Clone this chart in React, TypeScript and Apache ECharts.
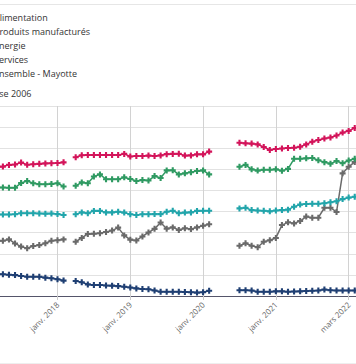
import React, { useEffect, useRef } from "react";
import * as echarts from "echarts";

const categories = [
  "janv. 2017", "févr. 2017", "mars 2017", "avr. 2017", "mai 2017", "juin 2017", "juil. 2017", "août 2017", "sept. 2017", "oct. 2017", "nov. 2017", "déc. 2017",
  "janv. 2018", "févr. 2018", "mars 2018", "avr. 2018", "mai 2018", "juin 2018", "juil. 2018", "août 2018", "sept. 2018", "oct. 2018", "nov. 2018", "déc. 2018",
  "janv. 2019", "févr. 2019", "mars 2019", "avr. 2019", "mai 2019", "juin 2019", "juil. 2019", "août 2019", "sept. 2019", "oct. 2019", "nov. 2019", "déc. 2019",
  "janv. 2020", "févr. 2020", "mars 2020", "avr. 2020", "mai 2020", "juin 2020", "juil. 2020", "août 2020", "sept. 2020", "oct. 2020", "nov. 2020", "déc. 2020",
  "janv. 2021", "avr. 2021", "mai 2021", "juin 2021", "juil. 2021", "août 2021", "sept. 2021", "oct. 2021", "nov. 2021", "déc. 2021",
  "janv. 2022", "févr. 2022", "mars 2022", "avr. 2022", "mai 2022",
];

const alimentation = [
  null, null, 141.2, 141.3, 142.1, 142.3, 143.2, 142.2, 142.4, 142.6, 142.8, 142.9, 143.0, 143.3,
  null,
  145.7, 146.7, 146.8, 146.8, 146.8, 146.8, 146.8, 146.8, 147.3, 146.1, 146.3, 146.3, 146.5, 146.3, 146.6, 147.2, 147.3, 147.4, 146.5, 146.6, 147.1, 147.1, 148.4,
  null, null, null, null,
  152.6, 152.3, 152.2, 151.8, 150.6, 149.2, 149.6, 149.9, 150.1, 150.2, 150.7, 151.8, 153.1, 153.9, 154.6, 155.1, 156.0, 157.4, 158.2, 159.6,
  null,
];

const produitsManufactures = [
  null, null, 90.4, 90.3, 90.1, 89.9, 89.5, 89.1, 89.1, 89.1, 88.7, 88.4, 87.9, 87.3,
  null,
  87.1, 86.5, 85.5, 85.2, 85.2, 85.0, 84.9, 84.7, 84.4, 84.0, 83.6, 83.3, 83.2, 82.6, 82.0, 82.0, 82.0, 82.0, 81.9, 81.8, 81.6, 81.8, 82.5,
  null, null, null, null,
  82.7, 82.7, 82.6, 82.0, 82.0, 82.0, 82.2, 82.2, 82.0, 82.1, 82.2, 82.4, 82.5, 82.6, 83.1, 82.7, 82.6, 82.6, 82.6, 82.6,
  null,
];

const energie = [
  null, null, 106.0, 106.2, 106.8, 104.9, 103.4, 102.6, 103.7, 104.1, 105.0, 106.2, 106.4, 106.8,
  null,
  105.7, 107.5, 109.4, 109.5, 109.7, 110.3, 111.0, 112.4, 108.7, 106.7, 106.3, 108.2, 110.1, 111.8, 114.8, 111.9, 112.5, 111.3, 112.1, 111.7, 112.5, 113.3, 114.0,
  null, null, null, null,
  103.8, 105.0, 103.8, 103.1, 105.7, 106.4, 107.5, 113.6, 114.9, 114.4, 115.5, 117.6, 117.1, 117.1, 121.8, 121.8, 119.8, 138.1, 141.2, 143.5,
  null,
];

const services = [
  null, null, 131.4, 131.4, 131.3, 131.3, 133.5, 134.5, 133.4, 132.9, 132.9, 133.1, 133.4, 131.9,
  null,
  132.2, 133.8, 133.4, 136.6, 137.6, 135.3, 135.3, 135.3, 136.2, 135.4, 134.5, 134.9, 134.7, 136.8, 135.9, 139.5, 139.6, 137.6, 138.1, 138.6, 139.2, 139.5, 137.6,
  null, null, null, null,
  141.2, 142.1, 140.0, 139.4, 139.8, 139.8, 140.0, 139.3, 140.2, 145.0, 145.0, 145.2, 145.4, 144.3, 143.4, 142.7, 143.9, 142.9, 144.2, 145.0,
  null,
];

const ensemble = [
  null, null, 118.6, 118.6, 118.6, 118.7, 119.2, 119.2, 119.2, 119.1, 119.0, 119.1, 118.8, 118.4,
  null,
  118.7, 119.6, 119.2, 120.3, 120.3, 119.6, 119.6, 119.9, 119.5, 118.7, 118.4, 118.7, 118.7, 118.8, 118.8, 119.9, 120.4, 119.2, 119.5, 119.6, 120.3, 120.4, 120.4,
  null, null, null, null,
  121.5, 121.8, 120.7, 120.5, 120.4, 120.1, 120.5, 120.7, 120.9, 122.3, 123.3, 123.6, 123.7, 123.7, 123.9, 124.4, 124.9, 125.9, 126.6, 127.0,
  null,
];

const seriesNames = ["Alimentation", "Produits manufacturés", "Énergie", "Services", "Ensemble - Mayotte"];
const seriesData = [alimentation, produitsManufactures, energie, services, ensemble];
const seriesColors = ["#d3145a", "#1f3f73", "#6a6a6a", "#2f9a62", "#22a5ab"];
const yAxisName = "Indice base 2006";

const PLUS = "path://M2.6,0H5.4V2.6H8V5.4H5.4V8H2.6V5.4H0V2.6H2.6Z";
const FONT = "'Open Sans', 'Noto Sans', sans-serif";

export default function App() {
  const ref = useRef<HTMLDivElement>(null);
  useEffect(() => {
    const chart = echarts.init(ref.current!, null, { renderer: "svg" });
    chart.setOption({
      animation: false,
      backgroundColor: "#ffffff",
      textStyle: { fontFamily: FONT },
      legend: {
        orient: "vertical",
        left: -37,
        top: 12,
        padding: 0,
        itemWidth: 25,
        itemHeight: 10,
        itemGap: 4,
        textStyle: { fontFamily: FONT, fontSize: 9, color: "#333", lineHeight: 10 },
        data: seriesNames,
      },
      grid: {
        left: -15.3,
        right: -4.8,
        top: 106,
        bottom: 68,
        containLabel: false,
        outerBoundsMode: "none",
      },
      xAxis: {
        type: "category",
        data: categories,
        boundaryGap: false,
        axisLine: { lineStyle: { color: "#55556a", width: 1 } },
        axisTick: { show: true, interval: 11, length: 4, lineStyle: { color: "#cccccc" } },
        axisLabel: { interval: 11, rotate: 45, fontSize: 8, color: "#666", margin: 7, fontFamily: FONT, hideOverlap: false },
        splitLine: { show: true, interval: 11, lineStyle: { color: "#d2d2d2", width: 1 } },
      },
      yAxis: {
        type: "value",
        min: 80,
        max: 170,
        interval: 10,
        axisLine: { show: false },
        axisTick: { show: false },
        axisLabel: { show: false },
        splitLine: { show: true, lineStyle: { color: "#e2e2e2", width: 1 } },
      },
      graphic: [
        { type: "rect", shape: { x: 0, y: 4, width: 356, height: 1 }, style: { fill: "#e6e6e6" } },
        { type: "rect", shape: { x: 0, y: 363, width: 356, height: 1 }, style: { fill: "#eeeeee" } },
        {
          type: "text",
          x: 31.5,
          y: 93,
          style: { text: yAxisName, align: "right", verticalAlign: "middle", fontSize: 9, fill: "#333", fontFamily: FONT },
        },
      ],
      series: seriesNames.map((name, i) => ({
        name,
        type: "line",
        data: seriesData[i],
        symbol: PLUS,
        symbolSize: 6,
        showSymbol: true,
        showAllSymbol: true,
        connectNulls: false,
        lineStyle: { color: seriesColors[i], width: 1.5 },
        itemStyle: { color: seriesColors[i] },
        emphasis: { disabled: true },
      })),
    });
    return () => chart.dispose();
  }, []);
  return (
    <div
      ref={ref}
      style={{ position: "fixed", left: 0, top: 0, width: 356, height: 364, background: "#fff" }}
    />
  );
}
